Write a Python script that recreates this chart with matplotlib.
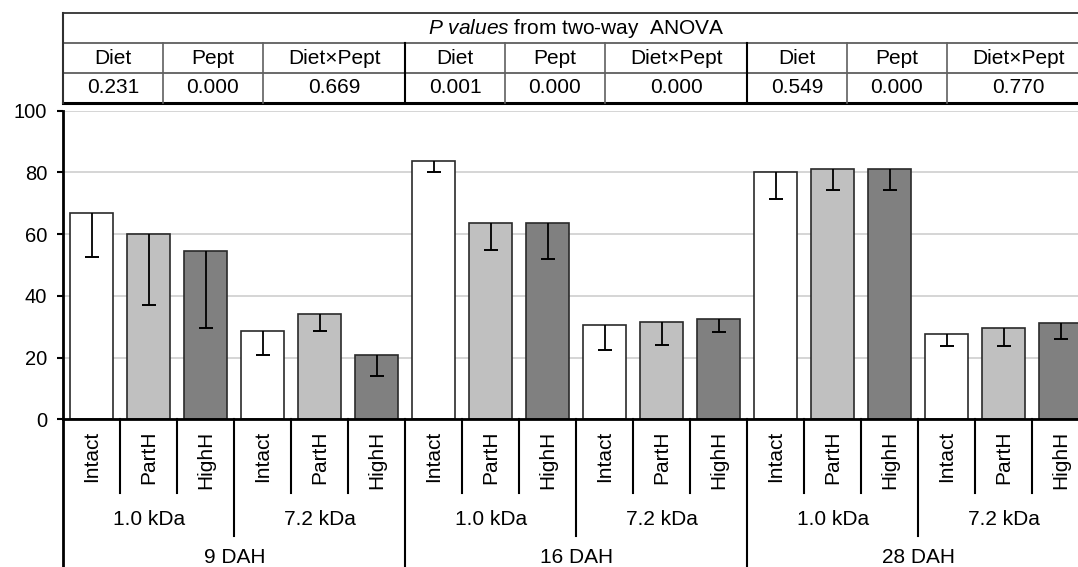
import matplotlib
matplotlib.use('Agg')
import matplotlib.pyplot as plt
import matplotlib.transforms as mtransforms
from matplotlib.lines import Line2D
import numpy as np

plt.rcParams['font.family'] = ['Liberation Sans', 'DejaVu Sans']
plt.rcParams['mathtext.fontset'] = 'custom'
plt.rcParams['mathtext.rm'] = 'Liberation Sans'
plt.rcParams['mathtext.it'] = 'Liberation Sans:italic'

# ---- data ----
days = ['9 DAH', '16 DAH', '28 DAH']
sizes = ['1.0 kDa', '7.2 kDa']
forms = ['Intact', 'PartH', 'HighH']
form_colors = {'Intact': '#ffffff', 'PartH': '#c0c0c0', 'HighH': '#808080'}

means = [66.9, 60.2, 54.5, 28.7, 34.0, 20.7,
         83.8, 63.5, 63.5, 30.6, 31.6, 32.4,
         80.1, 81.0, 81.0, 27.5, 29.6, 31.3]
err_low = [14.4, 23.1, 24.9, 7.9, 5.3, 6.6,
           3.7, 8.8, 11.7, 8.2, 7.6, 4.1,
           8.7, 6.7, 6.7, 3.6, 5.7, 5.4]

effects = ['Diet', 'Pept', 'Diet×Pept']
pvals = [['0.231', '0.000', '0.669'],
         ['0.001', '0.000', '0.000'],
         ['0.549', '0.000', '0.770']]

FS = 15

# ---- figure / axes (pixel layout of the original) ----
W, H = 1078, 567
fig = plt.figure(figsize=(W / 100, H / 100), dpi=100)
ax_l, ax_r, ax_t, ax_b = 63.3, 63.3 + 18 * 57, 110.7, 419.3
ax = fig.add_axes([ax_l / W, 1 - ax_b / H, (ax_r - ax_l) / W, (ax_b - ax_t) / H])
ax_h = ax_b - ax_t

n = len(days) * len(sizes) * len(forms)
x = np.arange(n)
labels = [f for d in days for s in sizes for f in forms]
colors = [form_colors[f] for f in labels]
means = np.array(means)
err_low = np.array(err_low)

ax.bar(x, means, width=0.76, color=colors, edgecolor='#2a2a2a', linewidth=1.2, zorder=2)
ax.vlines(x, means - err_low, means, color='black', linewidth=1.3, zorder=3)
ax.plot(x, means - err_low, ls='none', marker='_', ms=9.5, mew=1.4, color='black', zorder=3)

ax.set_xlim(-0.5, n - 0.5)
ax.set_ylim(0, 100)
ax.set_yticks(range(0, 101, 20))
ax.tick_params(axis='y', length=4.5, width=1.5, pad=7, labelsize=14.5, colors='black')
ax.set_xticks([])
ax.yaxis.grid(True, color='#d2d2d2', linewidth=1.3)
ax.set_axisbelow(True)
for side in ['top', 'right']:
    ax.spines[side].set_visible(False)
for side in ['left', 'bottom']:
    ax.spines[side].set_linewidth(2)
    ax.spines[side].set_color('black')

# ---- hierarchical category labels under the axis ----
tr = ax.get_xaxis_transform()


def below(px):
    return -px / ax_h


for i, lab in enumerate(labels):
    ax.text(i, below(11), lab, rotation=90, ha='center', va='top', fontsize=FS, transform=tr)

for k in range(1, n):
    if k % 6 == 0:
        depth = 160
    elif k % 3 == 0:
        depth = 117
    else:
        depth = 74
    ax.plot([k - 0.5, k - 0.5], [0, below(depth)], color='black', lw=1.5,
            transform=tr, clip_on=False)
ax.plot([-0.5, -0.5], [0, below(160)], color='black', lw=2, transform=tr, clip_on=False)

for gi, d in enumerate(days):
    for si, s in enumerate(sizes):
        ax.text(gi * 6 + si * 3 + 1, below(100), s, ha='center', va='center',
                fontsize=FS, transform=tr)
    ax.text(gi * 6 + 2.5, below(138), d, ha='center', va='center', fontsize=FS, transform=tr)

# ---- P value table above the plot ----
ttr = mtransforms.blended_transform_factory(ax.transData, fig.transFigure)


def fy(py):
    return 1 - py / H


rows = [13, 43, 73, 102.5]
col_w = [1.75, 1.75, 2.5]
x0, x1 = -0.5, n - 0.5


def tline(xs, ys, **kw):
    fig.add_artist(Line2D(xs, ys, transform=ttr, clip_on=False, **kw))


tline([x0, x1], [fy(rows[0])] * 2, color='#404040', lw=1.4)
tline([x0, x1], [fy(rows[1])] * 2, color='#505050', lw=1.2)
tline([x0, x1], [fy(rows[2])] * 2, color='#505050', lw=1.2)
tline([x0, x1], [fy(rows[3])] * 2, color='black', lw=2.2)
tline([x0, x0], [fy(rows[0]), fy(rows[3])], color='#303030', lw=1.5)

fig.text((x0 + x1) / 2, fy((rows[0] + rows[1]) / 2),
         r'$\mathit{P\ values}$ from two-way  ANOVA', transform=ttr,
         ha='center', va='center', fontsize=FS)

for gi in range(len(days)):
    left = gi * 6 - 0.5
    edges = left + np.concatenate([[0], np.cumsum(col_w)])
    for ci, eff in enumerate(effects):
        cx = (edges[ci] + edges[ci + 1]) / 2
        fig.text(cx, fy((rows[1] + rows[2]) / 2), eff, transform=ttr,
                 ha='center', va='center', fontsize=FS)
        fig.text(cx, fy((rows[2] + rows[3]) / 2), pvals[gi][ci], transform=ttr,
                 ha='center', va='center', fontsize=FS)
    for e in edges[1:3]:
        tline([e, e], [fy(rows[1]), fy(rows[3])], color='#606060', lw=1.2)
    if gi > 0:
        tline([left, left], [fy(rows[1]), fy(rows[3])], color='black', lw=1.5)

fig.savefig('out.png', dpi=100)
